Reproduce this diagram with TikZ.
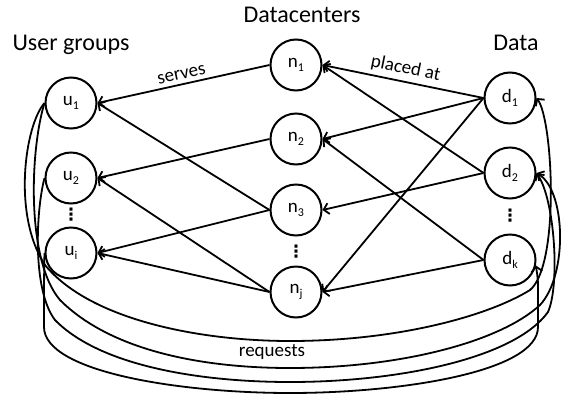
\documentclass[tikz,border=0pt]{standalone}
\usepackage{fontspec}
\setmainfont{Carlito}
\newfontfamily\dejavu{DejaVu Sans}
\usetikzlibrary{arrows.meta}
\newcommand\lbl[2]{#1\raisebox{-0.45ex}{\fontsize{12}{12}\selectfont #2}}
\tikzset{
  vnode/.style={circle, draw, line width=2pt, minimum size=51pt, inner sep=0pt, font=\fontsize{19}{19}\selectfont},
  title/.style={font=\fontsize{24}{24}\selectfont, inner sep=0pt, anchor=base},
  edge/.style={line width=1.8pt, -{Straight Barb[length=5pt,width=11pt,line width=1.8pt]}},
  req/.style={line width=1.8pt, -{Straight Barb[length=5pt,width=11pt,line width=1.8pt]}},
  elabel/.style={font=\fontsize{19}{19}\selectfont, inner sep=1pt},
  vdots/.style={font=\dejavu\bfseries\fontsize{17}{17}\selectfont, inner sep=0pt}
}
\begin{document}
\begin{tikzpicture}[x=1pt,y=-1pt]
\useasboundingbox (0,0) rectangle (567,399);
% titles
\node[title] (tdc) at (302,22) {Datacenters};
\node[title] (tug) at (71,50) {User groups};
\node[title] (tda) at (516,50) {Data};
% user groups
\node[vnode] (u1) at (71,103) {\lbl{u}{1}};
\node[vnode] (u2) at (71,178) {\lbl{u}{2}};
\node[vnode] (ui) at (71,253) {\lbl{u}{i}};
% datacenters
\node[vnode] (n1) at (296,65) {\lbl{n}{1}};
\node[vnode] (n2) at (296,139) {\lbl{n}{2}};
\node[vnode] (n3) at (296,210) {\lbl{n}{3}};
\node[vnode] (nj) at (296,292) {\lbl{n}{j}};
% data
\node[vnode] (d1) at (510,98) {\lbl{d}{1}};
\node[vnode] (d2) at (510,173) {\lbl{d}{2}};
\node[vnode] (dk) at (510,260) {\lbl{d}{k}};
% dots
\node[vdots] (du) at (71,215) {⋮};
\node[vdots] (dn) at (296,252) {⋮};
\node[vdots] (dd) at (510,216) {⋮};
% serves
\draw[edge] (n1.west) -- node[elabel, sloped, above=3pt, pos=0.5] (ls) {serves} (u1.east);
\draw[edge] (n3.west) -- (u1.east);
\draw[edge] (n2.west) -- (u2.east);
\draw[edge] (nj.west) -- (u2.east);
\draw[edge] (n3.west) -- (ui.east);
\draw[edge] (nj.west) -- (ui.east);
% placed at
\draw[edge] (d1.west) -- node[elabel, sloped, above=3pt, pos=0.5] (lp) {placed at} (n1.east);
\draw[edge] (d2.west) -- (n1.east);
\draw[edge] (d1.west) -- (n2.east);
\draw[edge] (dk.west) -- (n2.east);
\draw[edge] (d2.west) -- (n3.east);
\draw[edge] (d1.west) -- (nj.east);
\draw[edge] (dk.west) -- (nj.east);
% requests
\draw[req] (u1.west) .. controls (25,125) and (12,215) .. (45,265)
  .. controls (90,320) and (200,341) .. (290,341)
  .. controls (400,341) and (490,315) .. (530,290)
  .. controls (560,265) and (553,120) .. (d1.east);
\draw[req] (u1.west) .. controls (30,150) and (26,260) .. (60,300)
  .. controls (110,350) and (200,368) .. (290,368)
  .. controls (400,368) and (500,342) .. (540,305)
  .. controls (568,275) and (566,190) .. (d2.east);
\draw[req] (u2.west) .. controls (36,210) and (32,290) .. (55,320)
  .. controls (100,366) and (200,382) .. (290,382)
  .. controls (400,382) and (515,358) .. (548,312)
  .. controls (560,285) and (555,200) .. (d2.east);
\draw[req] (ui.west) .. controls (44,270) and (44,300) .. (44,327)
  .. controls (44,372) and (180,393) .. (290,393)
  .. controls (400,393) and (538,372) .. (538,327)
  -- (538,290) .. controls (538,280) .. (dk.-12);
\node[elabel] (lr) at (272,352) {requests};
\end{tikzpicture}
\end{document}
